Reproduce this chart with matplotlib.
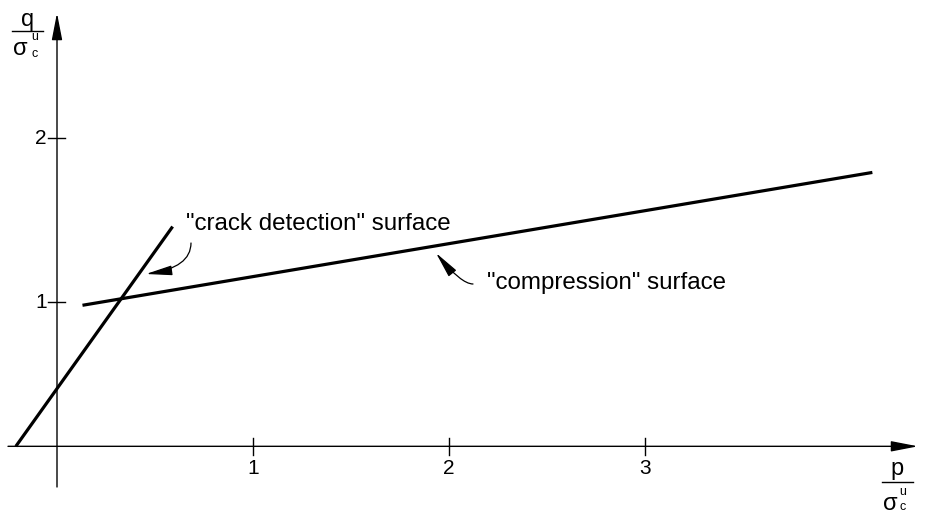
import matplotlib
matplotlib.use("Agg")
import matplotlib.pyplot as plt

# values (p/sigma, q/sigma)
crack_p = [-0.21, 0.59]
crack_q = [0.12, 1.46]
comp_p = [0.13, 4.16]
comp_q = [0.98, 1.79]
x_ticks = [1, 2, 3]
y_ticks = [1, 2]
crack_label = '"crack detection" surface'
comp_label = '"compression" surface'

plt.rcParams['font.family'] = ['Liberation Sans', 'DejaVu Sans']


def P(x, y):
    # pixel position in the 928x514 picture -> data coords
    return (x - 57) / 196, 1 + (302 - y) / 164


fig = plt.figure(figsize=(9.28, 5.14), dpi=100)
ax = fig.add_axes([0, 0, 1, 1])
ax.set_axis_off()
ax.set_xlim(P(0, 0)[0], P(928, 0)[0])
ax.set_ylim(P(0, 514)[1], P(0, 0)[1])

axis_q = crack_q[0]
axis_style = dict(arrowstyle='-|>,head_length=1.65,head_width=0.32',
                  mutation_scale=10, lw=1.0, color='black', shrinkA=0, shrinkB=0)
ax.annotate('', xy=(P(918, 0)[0], axis_q), xytext=(P(8, 0)[0], axis_q),
            arrowprops=axis_style)
ax.annotate('', xy=(0, P(0, 13)[1]), xytext=(0, P(0, 487)[1]),
            arrowprops=axis_style)

# ticks
dq = 8.5 / 164
dp = 8.5 / 196
for t in x_ticks:
    ax.plot([t, t], [axis_q - dq, axis_q + dq], color='black', lw=1.0)
    ax.text(t, P(0, 459)[1], str(t), ha='center', va='top', fontsize=15)
for t in y_ticks:
    ax.plot([-dp, dp], [t, t], color='black', lw=1.0)
    ax.text(P(47, 0)[0], t, str(t), ha='right', va='center', fontsize=15)

# the two surfaces
ax.plot(crack_p, crack_q, color='black', lw=2.3, solid_capstyle='butt')
ax.plot(comp_p, comp_q, color='black', lw=2.3, solid_capstyle='butt')

# labels with curved pointers
ax.text(*P(186, 230), crack_label, ha='left', va='baseline', fontsize=17.4)
ax.text(*P(487, 289), comp_label, ha='left', va='baseline', fontsize=17.4)
pointer = dict(arrowstyle='-|>,head_length=1.6,head_width=0.3', mutation_scale=10,
               lw=0.9, color='black', shrinkA=0, shrinkB=0)
ax.annotate('', xy=P(146, 274), xytext=P(191, 243),
            arrowprops=dict(pointer, connectionstyle='angle3,angleA=90,angleB=8'))
ax.annotate('', xy=P(436, 253), xytext=P(473, 284),
            arrowprops=dict(pointer, connectionstyle='angle3,angleA=0,angleB=-51'))


# axis titles drawn as stacked fractions
def frac(top, x_top, y_top, x_bar0, x_bar1, y_bar, x_sig, y_sig, x_uc, y_u, y_c):
    ax.text(*P(x_top, y_top), top, ha='center', va='baseline', fontsize=17)
    ax.plot([P(x_bar0, 0)[0], P(x_bar1, 0)[0]], [P(0, y_bar)[1]] * 2,
            color='black', lw=1.0)
    ax.text(*P(x_sig, y_sig), '\u03c3', ha='center', va='baseline', fontsize=17)
    ax.text(*P(x_uc, y_u), 'u', ha='center', va='baseline', fontsize=9)
    ax.text(*P(x_uc, y_c), 'c', ha='center', va='baseline', fontsize=9)


frac('q', 28, 26, 12, 43, 31, 20, 55, 34.5, 40, 57)
frac('p', 897, 475, 882, 913, 482, 890, 510, 903, 495, 510)

fig.savefig('out.png', dpi=100)
